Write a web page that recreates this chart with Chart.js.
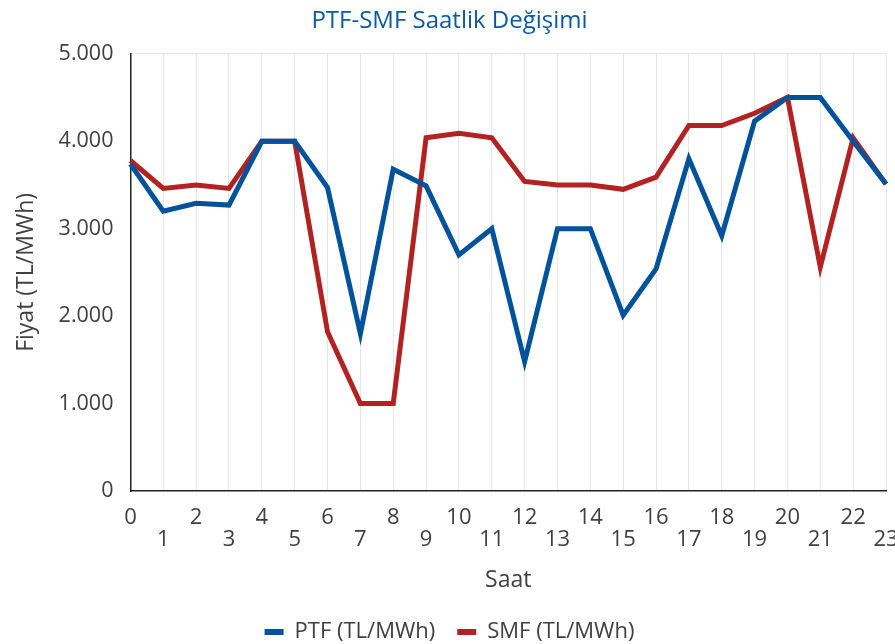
<!DOCTYPE html>
<html>
<head>
<meta charset="utf-8">
<script src="https://cdn.jsdelivr.net/npm/chart.js@4.4.0/dist/chart.umd.min.js"></script>
<style>
    html, body { margin: 0; padding: 0; background: #fff; }
    #wrap { width: 895px; height: 644px; }
</style>
</head>
<body>
<div id="wrap"><canvas id="priceChart"></canvas></div>
<script>
// Saat 0-23
const hours = ['0', '1', '2', '3', '4', '5', '6', '7', '8', '9', '10', '11',
    '12', '13', '14', '15', '16', '17', '18', '19', '20', '21', '22', '23'];

// PTF (TL/MWh)
const ptfValues = [3740, 3200, 3290, 3270, 4000, 4000, 3470, 1800, 3680, 3490, 2700, 3000,
    1480, 3000, 3000, 2010, 2540, 3800, 2920, 4230, 4500, 4500, 4000, 3510];

// SMF (TL/MWh)
const smfValues = [3780, 3460, 3500, 3460, 4000, 4000, 1820, 1000, 1000, 4040, 4090, 4040,
    3540, 3500, 3500, 3450, 3590, 4180, 4180, 4320, 4500, 2560, 4040, 3510];

const yTicks = [0, 1000, 2000, 3000, 4000, 5000];

const textColor = '#404040';
const fontFamily = '"Open Sans", "Noto Sans", sans-serif';

function formatTr(v) {
    return String(v).replace(/\B(?=(\d{3})+(?!\d))/g, '.');
}

document.addEventListener('DOMContentLoaded', () => {
    const ctx = document.getElementById('priceChart');

    new Chart(ctx, {
        type: 'line',
        data: {
            labels: hours,
            datasets: [
                {
                    label: 'PTF (TL/MWh)',
                    data: ptfValues,
                    borderColor: '#00529b',
                    backgroundColor: '#00529b',
                    borderWidth: 5,
                    pointRadius: 0,
                    tension: 0
                },
                {
                    label: 'SMF (TL/MWh)',
                    data: smfValues,
                    borderColor: '#b22222',
                    backgroundColor: '#b22222',
                    borderWidth: 5,
                    pointRadius: 0,
                    tension: 0
                }
            ]
        },
        options: {
            responsive: true,
            maintainAspectRatio: false,
            animation: false,
            // legend sits low in the original, so let its spare margin run off the bottom
            layout: { padding: { left: 13, right: 9, top: 4, bottom: -9 } },
            plugins: {
                title: {
                    display: true,
                    text: 'PTF-SMF Saatlik Değişimi',
                    color: '#0b5aa6',
                    font: { family: fontFamily, size: 24, weight: 'normal' },
                    padding: { top: 3, bottom: 18 }
                },
                legend: {
                    position: 'bottom',
                    labels: {
                        color: textColor,
                        font: { family: fontFamily, size: 22 },
                        boxWidth: 19,
                        boxHeight: 6,
                        padding: 22,
                        // flat marker, no thick outline
                        generateLabels: chart => {
                            const items = Chart.defaults.plugins.legend.labels.generateLabels(chart);
                            items.forEach(it => { it.lineWidth = 0; });
                            return items;
                        }
                    }
                },
                tooltip: { enabled: false }
            },
            scales: {
                x: {
                    offset: false,
                    grid: { color: '#e6e6e6', lineWidth: 1, drawTicks: false },
                    border: { color: '#222', width: 1.5 },
                    ticks: {
                        color: textColor,
                        font: { family: fontFamily, size: 22, lineHeight: 1.0 },
                        autoSkip: false,
                        maxRotation: 0,
                        minRotation: 0,
                        padding: 16,
                        callback: (val, i) => (i % 2 ? ['', hours[i]] : hours[i])
                    },
                    title: {
                        display: true,
                        text: 'Saat',
                        color: textColor,
                        font: { family: fontFamily, size: 23, lineHeight: 1.0 },
                        padding: { top: 2, bottom: 7 }
                    },
                    afterFit: s => { s.paddingRight = 0; }
                },
                y: {
                    min: 0,
                    max: 5000,
                    afterBuildTicks: s => { s.ticks = yTicks.map(v => ({ value: v })); },
                    grid: {
                        drawTicks: false,
                        color: c => (c.tick && c.tick.value === 5000 ? '#e6e6e6' : 'rgba(0,0,0,0)')
                    },
                    border: { color: '#222', width: 1.5 },
                    ticks: {
                        color: textColor,
                        font: { family: fontFamily, size: 21.5 },
                        padding: 17,
                        callback: v => formatTr(v)
                    },
                    title: {
                        display: true,
                        text: 'Fiyat (TL/MWh)',
                        color: textColor,
                        font: { family: fontFamily, size: 23 },
                        padding: { top: 0, bottom: 1 }
                    }
                }
            }
        }
    });
});
</script>
</body>
</html>
